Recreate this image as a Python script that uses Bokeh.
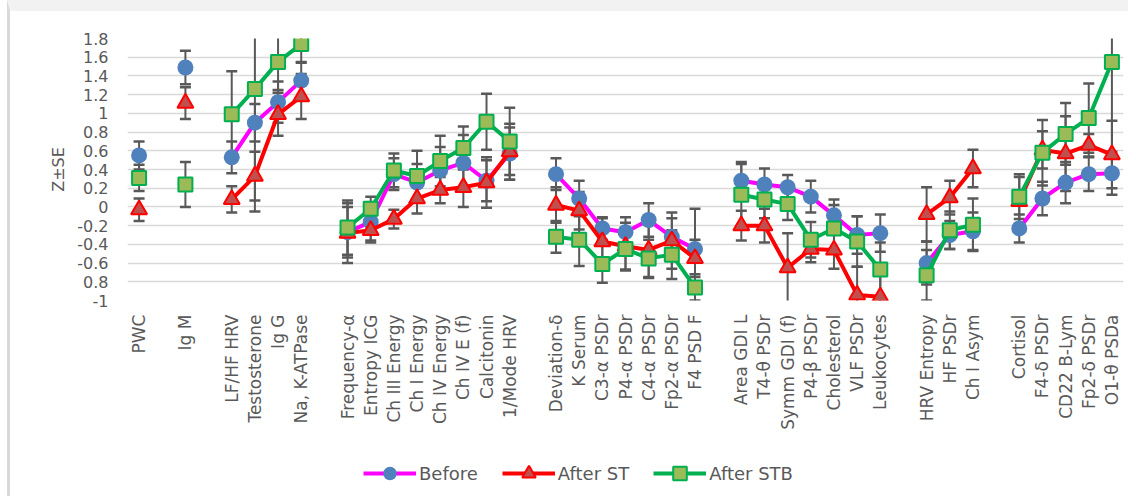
import numpy as np
from bokeh.plotting import figure
from bokeh.layouts import column
from bokeh.models import ColumnDataSource, FixedTicker, Range1d, Legend, LegendItem
from bokeh.embed import file_html
from bokeh.resources import INLINE

categories = ["PWC", None, "Ig M", None,
              "LF/HF HRV", "Testosterone", "Ig G", "Na, K-ATPase", None,
              "Frequency-α", "Entropy ICG", "Ch III Energy", "Ch I Energy", "Ch IV Energy",
              "Ch IV E (f)", "Calcitonin", "1/Mode HRV", None,
              "Deviation-δ", "K Serum", "C3-α PSDr", "P4-α PSDr", "C4-α PSDr", "Fp2-α PSDr", "F4 PSD F", None,
              "Area GDI L", "T4-θ PSDr", "Symm GDI (f)", "P4-β PSDr", "Cholesterol", "VLF PSDr", "Leukocytes", None,
              "HRV Entropy", "HF PSDr", "Ch I Asym", None,
              "Cortisol", "F4-δ PSDr", "CD22 B-Lym", "Fp2-δ PSDr", "O1-θ PSDa"]

before = [0.55, None, 1.49, None,
          0.53, 0.90, 1.12, 1.35, None,
          -0.27, -0.16, 0.35, 0.26, 0.39, 0.47, 0.28, 0.57, None,
          0.35, 0.09, -0.23, -0.27, -0.14, -0.32, -0.45, None,
          0.28, 0.24, 0.21, 0.11, -0.09, -0.30, -0.28, None,
          -0.60, -0.30, -0.26, None,
          -0.23, 0.09, 0.26, 0.35, 0.36]
before_err = [0.15, None, 0.18, None,
              0.17, 0.20, 0.22, 0.20, None,
              0.27, 0.20, 0.17, 0.20, 0.25, 0.30, 0.22, 0.28, None,
              0.17, 0.19, 0.12, 0.16, 0.18, 0.20, 0.43, None,
              0.20, 0.17, 0.13, 0.17, 0.17, 0.20, 0.20, None,
              0.23, 0.15, 0.20, None,
              0.15, 0.18, 0.22, 0.18, 0.23]

after_st = [-0.03, None, 1.11, None,
            0.08, 0.33, 0.99, 1.18, None,
            -0.28, -0.25, -0.13, 0.09, 0.18, 0.21, 0.26, 0.59, None,
            0.02, -0.04, -0.37, -0.42, -0.46, -0.36, -0.55, None,
            -0.20, -0.20, -0.65, -0.45, -0.46, -0.94, -0.96, None,
            -0.08, 0.10, 0.41, None,
            0.06, 0.61, 0.57, 0.66, 0.56]
after_st_err = [0.12, None, 0.17, None,
                0.14, 0.26, 0.23, 0.24, None,
                0.32, 0.13, 0.10, 0.16, 0.14, 0.21, 0.27, 0.30, None,
                0.19, 0.20, 0.25, 0.25, 0.30, 0.30, 0.20, None,
                0.16, 0.18, 0.37, 0.14, 0.20, 0.30, 0.30, None,
                0.29, 0.18, 0.20, None,
                0.26, 0.20, 0.40, 0.12, 0.36]

after_stb = [0.31, None, 0.24, None,
             0.99, 1.26, 1.55, 1.74, None,
             -0.22, -0.02, 0.39, 0.33, 0.49, 0.63, 0.91, 0.70, None,
             -0.32, -0.35, -0.61, -0.45, -0.55, -0.51, -0.86, None,
             0.13, 0.08, 0.03, -0.35, -0.23, -0.37, -0.67, None,
             -0.73, -0.25, -0.19, None,
             0.11, 0.58, 0.78, 0.95, 1.55]
after_stb_err = [0.14, None, 0.24, None,
                 0.46, 1.31, 0.30, 0.20, None,
                 0.29, 0.13, 0.18, 0.27, 0.27, 0.23, 0.30, 0.36, None,
                 0.17, 0.28, 0.20, 0.23, 0.20, 0.26, 0.14, None,
                 0.33, 0.20, 0.17, 0.19, 0.25, 0.27, 0.29, None,
                 0.27, 0.20, 0.28, None,
                 0.24, 0.35, 0.33, 0.37, 1.20]

y_ticks = [-1.0, -0.8, -0.6, -0.4, -0.2, 0.0, 0.2, 0.4, 0.6, 0.8, 1.0, 1.2, 1.4, 1.6, 1.8]
y_tick_labels = ["-1", "0.8", "-0.6", "-0.4", "-0.2", "0", "0.2", "0.4", "0.6", "0.8", "1", "1.2", "1.4", "1.6", "1.8"]


def arr(v):
    return np.array([np.nan if a is None else a for a in v], dtype=float)


x = np.arange(len(categories), dtype=float)
FONT = "DejaVu Sans"
TXT = "#595959"
W = 1118

p = figure(width=W, height=441, output_backend="svg", toolbar_location=None,
           x_range=Range1d(-0.5, len(categories) - 0.5), y_range=Range1d(-1.0, 1.8),
           min_border_left=117, min_border_right=5, min_border_top=27, min_border_bottom=152)
p.outline_line_color = None
p.xgrid.grid_line_color = None
p.ygrid.grid_line_color = "#D9D9D9"
p.ygrid.grid_line_width = 1.5

p.yaxis.ticker = FixedTicker(ticks=y_ticks)
p.yaxis.major_label_overrides = {t: l for t, l in zip(y_ticks, y_tick_labels)}
p.xaxis.ticker = FixedTicker(ticks=[i for i, c in enumerate(categories) if c])
p.xaxis.major_label_overrides = {i: c for i, c in enumerate(categories) if c}
p.xaxis.major_label_orientation = np.pi / 2
for ax in (p.xaxis, p.yaxis):
    ax.axis_line_color = None
    ax.major_tick_line_color = None
    ax.minor_tick_line_color = None
    ax.major_tick_out = 0
    ax.major_tick_in = 0
    ax.major_label_text_font = FONT
    ax.major_label_text_color = TXT
p.xaxis.major_label_text_font_size = "17px"
p.yaxis.major_label_text_font_size = "16px"
p.xaxis.major_label_standoff = 14
p.yaxis.major_label_standoff = 19
p.yaxis.axis_label = "Z±SE"
p.yaxis.axis_label_text_font = FONT
p.yaxis.axis_label_text_font_style = "normal"
p.yaxis.axis_label_text_font_size = "16px"
p.yaxis.axis_label_text_color = TXT
p.yaxis.axis_label_standoff = 6

series = [
    ("Before", before, before_err, "#FF00FF", "circle", "#4F81BD", "#4F81BD", 16),
    ("After ST", after_st, after_st_err, "#FF0000", "triangle", "#C0504D", "#FF0000", 16),
    ("After STB", after_stb, after_stb_err, "#00B050", "square", "#9BBB59", "#00B050", 14),
]

# error bars first (under the markers)
for name, vals, errs, lc, mk, fc, oc, sz in series:
    v = arr(vals)
    e = arr(errs)
    src = ColumnDataSource(dict(x=x, lo=v - e, hi=v + e))
    p.segment(x0="x", y0="lo", x1="x", y1="hi", source=src, line_color="#595959", line_width=2)
    p.scatter(x="x", y="lo", source=src, marker="dash", size=11, line_color="#595959", line_width=2.5)
    p.scatter(x="x", y="hi", source=src, marker="dash", size=11, line_color="#595959", line_width=2.5)

sources = []
for name, vals, errs, lc, mk, fc, oc, sz in series:
    src = ColumnDataSource(dict(x=x, y=arr(vals)))
    sources.append(src)
    p.line(x="x", y="y", source=src, line_color=lc, line_width=4)
    p.scatter(x="x", y="y", source=src, marker=mk, size=sz, fill_color=fc,
              line_color=oc, line_width=2 if mk != "circle" else 0)

# legend strip below the chart (its ranges keep the data itself out of view)
lg = figure(width=W, height=44, output_backend="svg", toolbar_location=None,
            x_range=Range1d(100, 101), y_range=Range1d(100, 101),
            x_axis_type=None, y_axis_type=None,
            min_border_left=0, min_border_right=0, min_border_top=0, min_border_bottom=0)
lg.outline_line_color = None
lg.xgrid.visible = False
lg.ygrid.visible = False
items = []
for (name, vals, errs, lc, mk, fc, oc, sz), src in zip(series, sources):
    ln = lg.line(x="x", y="y", source=src, line_color=lc, line_width=4)
    sc = lg.scatter(x="x", y="y", source=src, marker=mk, size=sz, fill_color=fc,
                    line_color=oc, line_width=2 if mk != "circle" else 0)
    items.append(LegendItem(label=name, renderers=[ln, sc]))
legend = Legend(items=items, orientation="horizontal", location=(236, 6),
                border_line_color=None, background_fill_alpha=0,
                label_text_font=FONT, label_text_font_size="18px", label_text_color=TXT,
                glyph_width=53, glyph_height=34, label_height=34, label_standoff=3, spacing=24,
                margin=0, padding=2)
lg.add_layout(legend, "center")

layout = column(p, lg, spacing=0,
                styles={"margin-left": "7px", "border-left": "3px solid #D9D9D9",
                        "border-top": "11px solid #F2F2F2"})
open("out.html", "w").write(file_html(layout, INLINE))
